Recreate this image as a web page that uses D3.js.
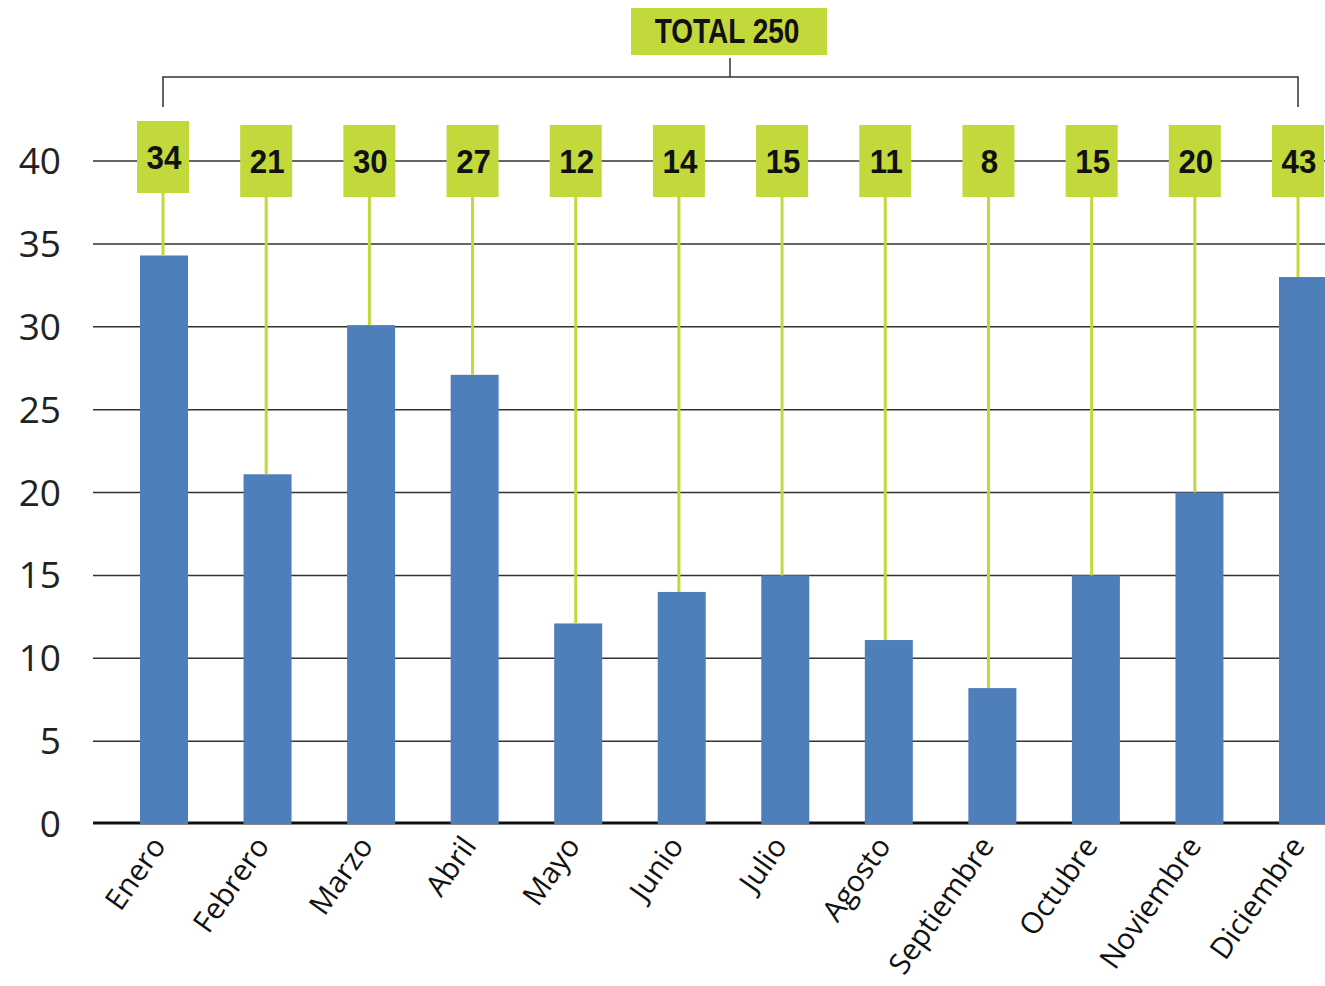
<!DOCTYPE html>
<html><head><meta charset="utf-8">
<script src="https://cdn.jsdelivr.net/npm/d3@7"></script>
<style>
html,body{margin:0;padding:0;background:#fff;}
svg{display:block;}
</style></head>
<body>
<svg id="chart" width="1325" height="986"></svg>
<script>
const months = ["Enero","Febrero","Marzo","Abril","Mayo","Junio","Julio","Agosto","Septiembre","Octubre","Noviembre","Diciembre"];
const barValues = [34.3, 21.1, 30.1, 27.1, 12.1, 14, 15, 11.1, 8.2, 15, 20, 33];
const labelValues = [34, 21, 30, 27, 12, 14, 15, 11, 8, 15, 20, 43];
const yTicks = [0,5,10,15,20,25,30,35,40];
const totalLabel = "TOTAL " + d3.sum(labelValues);

const green = "#c3d83a", blue = "#4f7fba";
const svg = d3.select("#chart");

const y = d3.scaleLinear().domain([0,40]).range([824,161]);
const xBar = d3.scalePoint().domain(months).range([164,1303]);
const xLab = d3.scalePoint().domain(months).range([163,1298]);
const barW = 48, boxW = 52, boxH = 72;

// gridlines
svg.append("g").selectAll("line").data(yTicks.filter(d=>d>0)).join("line")
  .attr("x1",93).attr("x2",1325).attr("y1",d=>y(d)).attr("y2",d=>y(d))
  .attr("stroke","#333").attr("stroke-width",1.5);

// y tick labels
svg.append("g").selectAll("text").data(yTicks).join("text")
  .attr("x",61).attr("y",d=>y(d)+13).attr("text-anchor","end")
  .attr("font-family","Open Sans, sans-serif").attr("font-size",37)
  .attr("fill","#222").text(d=>d);

// zero line
svg.append("line").attr("x1",93).attr("x2",1325).attr("y1",y(0)-1).attr("y2",y(0)-1)
  .attr("stroke","#111").attr("stroke-width",3);

// bars
svg.append("g").selectAll("rect").data(months).join("rect")
  .attr("x",d=>xBar(d)-barW/2).attr("width",barW)
  .attr("y",(d,i)=>y(barValues[i])).attr("height",(d,i)=>y(0)-y(barValues[i]))
  .attr("fill",blue);

const boxTop = i => i===0 ? 121 : 125;

// connectors
svg.append("g").selectAll("line").data(months).join("line")
  .attr("x1",d=>xLab(d)).attr("x2",d=>xLab(d))
  .attr("y1",(d,i)=>boxTop(i)+boxH).attr("y2",(d,i)=>y(barValues[i]))
  .attr("stroke",green).attr("stroke-width",3);

// label boxes
const lg = svg.append("g").selectAll("g").data(months).join("g");
lg.append("rect").attr("x",d=>xLab(d)-boxW/2).attr("y",(d,i)=>boxTop(i))
  .attr("width",boxW).attr("height",boxH).attr("fill",green);
lg.append("text")
  .attr("transform",(d,i)=>`translate(${xLab(d)+1},${boxTop(i)+48}) scale(0.92,1)`)
  .attr("text-anchor","middle")
  .attr("font-family","Liberation Sans, Arial, sans-serif").attr("font-weight","bold")
  .attr("font-size",34).attr("fill","#111").text((d,i)=>labelValues[i]);

// bracket
const xl = xLab(months[0]), xr = xLab(months[months.length-1]);
svg.append("path")
  .attr("d",`M${xl},107V77H${xr}V107M730,77V58`)
  .attr("fill","none").attr("stroke","#333").attr("stroke-width",1.5);

// total box
svg.append("rect").attr("x",631).attr("y",8).attr("width",196).attr("height",47).attr("fill",green);
svg.append("text")
  .attr("transform","translate(727,43) scale(0.8,1)")
  .attr("text-anchor","middle")
  .attr("font-family","Liberation Sans, Arial, sans-serif").attr("font-weight","bold")
  .attr("font-size",35).attr("fill","#111").text(totalLabel);

// month labels
svg.append("g").selectAll("text").data(months).join("text")
  .attr("transform",d=>`translate(${xBar(d)+3},${846}) rotate(-55)`)
  .attr("text-anchor","end")
  .attr("font-family","Open Sans, sans-serif").attr("font-size",29.5)
  .attr("fill","#111").text(d=>d);
</script>
</body></html>
